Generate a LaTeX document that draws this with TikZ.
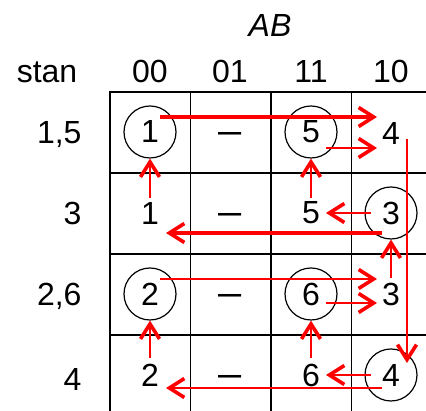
\documentclass[tikz,border=0pt]{standalone}
\usepackage{fontspec}
\setmainfont{Liberation Sans}
\usetikzlibrary{arrows.meta}

\begin{document}
\begin{tikzpicture}[x=1pt, y=1pt, >={Straight Barb[length=15pt,width=19pt,line width=3.6pt]}, line width=1pt, font=\fontsize{32}{38}\selectfont]

\tikzstyle{cell} = [inner sep=2pt]
\tikzstyle{blank} = [anchor=base, inner sep=0pt]
\tikzstyle{ringed} = [circle, draw=black, line width=1.2pt, minimum size=52pt, inner sep=0pt]
\tikzstyle{rowlabel} = [anchor=base east, inner sep=0pt]
\tikzstyle{flow} = [->, draw=red, line width=2.2pt]
\tikzstyle{longflow} = [flow, line width=3.5pt]

\useasboundingbox (0,0) rectangle (426,411);

\foreach \gx in {110,190.5,271,351.5} \draw[line width=1.6pt] (\gx,0) -- (\gx,319);
\foreach \gy in {319,238,157,76} \draw[line width=1.6pt] (109.2,\gy) -- (426,\gy);

\node (ab) at (270,385) {\itshape AB};
\node (stan) [anchor=base] at (47,328) {stan};
\node (h00) [anchor=base] at (150,328) {00};
\node (h01) [anchor=base] at (230,328) {01};
\node (h11) [anchor=base] at (311,328) {11};
\node (h10) [anchor=base] at (391,328) {10};

\node (l15) [rowlabel] at (82,267.5) {1,5};
\node (l3) [rowlabel] at (82,186.5) {3};
\node (l26) [rowlabel] at (82,105.5) {2,6};
\node (l4) [rowlabel] at (82,20) {4};

\node (r1c1) [ringed] at (150,279) {1};
\node (r1c2) [blank] at (230,267.5) {\scalebox{1.3}[1.2]{–}};
\node (r1c3) [ringed] at (311,279) {5};
\node (r1c4) [cell] at (391,277) {4};

\node (r2c1) [cell] at (150,198) {1};
\node (r2c2) [blank] at (230,186.5) {\scalebox{1.3}[1.2]{–}};
\node (r2c3) [cell] at (311,198) {5};
\node (r2c4) [ringed] at (391,198) {3};

\node (r3c1) [ringed] at (150,117) {2};
\node (r3c2) [blank] at (230,105.5) {\scalebox{1.3}[1.2]{–}};
\node (r3c3) [ringed] at (311,117) {6};
\node (r3c4) [cell] at (391,117) {3};

\node (r4c1) [cell] at (150,36) {2};
\node (r4c2) [blank] at (230,24.5) {\scalebox{1.3}[1.2]{–}};
\node (r4c3) [cell] at (311,36) {6};
\node (r4c4) [ringed] at (391,36) {4};

\draw [longflow] ([shift={(10,15)}]r1c1.center) -- ([shift={(-14,17)}]r1c4.center);
\draw [flow] ([shift={(15,-16)}]r1c3.center) -- ([shift={(-14,-14)}]r1c4.center);
\draw [flow] ([yshift=15]r2c1.center) -- (r1c1.south);
\draw [flow] ([yshift=15]r2c3.center) -- (r1c3.south);
\draw [flow] ([xshift=-20]r2c4.center) -- ([xshift=15]r2c3.center);
\draw [longflow] ([shift={(-9,-20)}]r2c4.center) -- ([shift={(16,-20)}]r2c1.center);
\draw [flow] ([shift={(16,-5)}]r1c4.center) -- ([shift={(16,12)}]r4c4.center);
\draw [flow] ([yshift=16]r3c4.center) -- (r2c4.south);
\draw [flow] ([shift={(10,15)}]r3c1.center) -- ([shift={(-14,15)}]r3c4.center);
\draw [flow] ([shift={(15,-9)}]r3c3.center) -- ([shift={(-14,-9)}]r3c4.center);
\draw [flow] ([yshift=17]r4c1.center) -- (r3c1.south);
\draw [flow] ([yshift=17]r4c3.center) -- (r3c3.south);
\draw [flow] ([xshift=-20]r4c4.center) -- ([xshift=15]r4c3.center);
\draw [flow] ([shift={(-9,-13)}]r4c4.center) -- ([shift={(16,-13)}]r4c1.center);

\end{tikzpicture}
\end{document}
